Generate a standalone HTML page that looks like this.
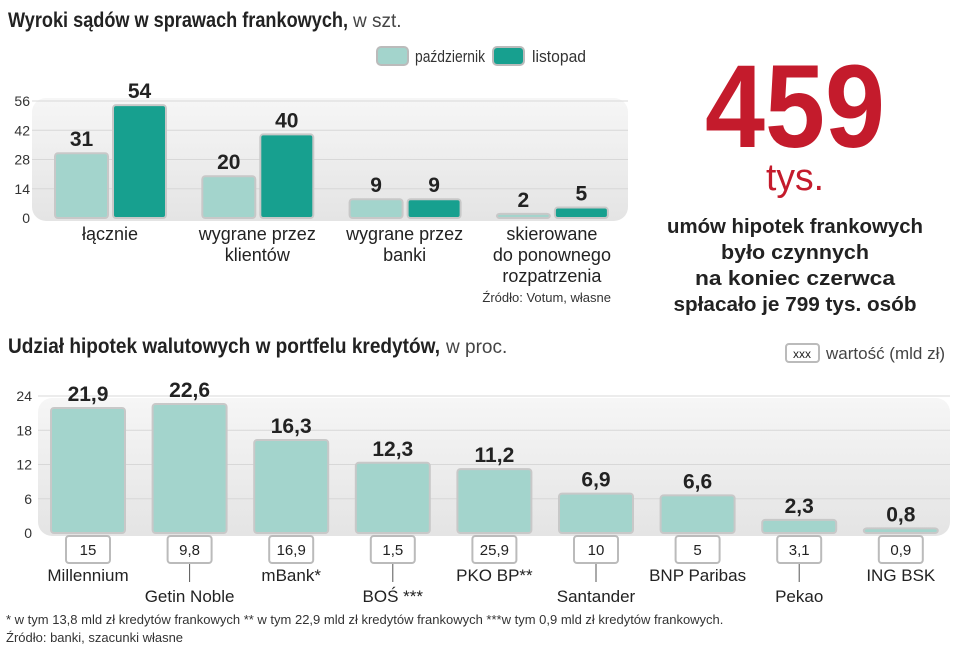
<!DOCTYPE html>
<html><head><meta charset="utf-8"><style>
body{margin:0;background:#fff}
svg{display:block;font-family:"Liberation Sans",sans-serif}
</style></head><body>
<svg id="c" width="960" height="652" viewBox="0 0 960 652">
<defs>
<linearGradient id="pg" x1="0" y1="0" x2="0" y2="1"><stop offset="0" stop-color="#f6f6f6"/><stop offset="1" stop-color="#e4e4e4"/></linearGradient>
</defs>
<text x="8" y="27" font-size="21" font-weight="bold" fill="#222" textLength="340" lengthAdjust="spacingAndGlyphs">Wyroki sądów w sprawach frankowych,</text>
<text x="353" y="27" font-size="19" fill="#444">w szt.</text>
<g>
<rect x="377" y="47" width="31" height="18" rx="4" fill="#a3d4cc" stroke="#bbb" stroke-width="2"/>
<text x="415" y="62" font-size="17" fill="#333" textLength="70" lengthAdjust="spacingAndGlyphs">październik</text>
<rect x="493" y="47" width="31" height="18" rx="4" fill="#17a08f" stroke="#bbb" stroke-width="2"/>
<text x="532" y="62" font-size="17" fill="#333" textLength="54" lengthAdjust="spacingAndGlyphs">listopad</text>
</g>
<rect x="32" y="98" width="596" height="123" rx="14" fill="url(#pg)"/>
<g id="top"></g>
<text x="611" y="302" font-size="13" fill="#333" text-anchor="end">Źródło: Votum, własne</text>

<text x="795" y="147" font-size="118" font-weight="bold" fill="#c41b2c" text-anchor="middle" textLength="180" lengthAdjust="spacingAndGlyphs">459</text>
<text x="795" y="190" font-size="38" fill="#c41b2c" text-anchor="middle" textLength="58" lengthAdjust="spacingAndGlyphs">tys.</text>
<g font-size="20" font-weight="bold" fill="#222" text-anchor="middle">
<text x="795" y="233" textLength="256" lengthAdjust="spacingAndGlyphs">umów hipotek frankowych</text>
<text x="795" y="259" textLength="148" lengthAdjust="spacingAndGlyphs">było czynnych</text>
<text x="795" y="285" textLength="200" lengthAdjust="spacingAndGlyphs">na koniec czerwca</text>
<text x="795" y="311" textLength="243" lengthAdjust="spacingAndGlyphs">spłacało je 799 tys. osób</text>
</g>

<text x="8" y="353" font-size="21" font-weight="bold" fill="#222" textLength="432" lengthAdjust="spacingAndGlyphs">Udział hipotek walutowych w portfelu kredytów,</text>
<text x="446" y="353" font-size="19" fill="#444">w proc.</text>
<g>
<rect x="786" y="344" width="33" height="18" rx="3" fill="#fff" stroke="#bbb" stroke-width="2"/>
<text x="802" y="358" font-size="12" fill="#222" text-anchor="middle">xxx</text>
<text x="826" y="359" font-size="17" fill="#444">wartość (mld zł)</text>
</g>
<rect x="38" y="398" width="912" height="138" rx="14" fill="url(#pg)"/>
<g id="bot"></g>
<text x="6" y="624" font-size="13" fill="#333">* w tym 13,8 mld zł kredytów frankowych ** w tym 22,9 mld zł kredytów frankowych ***w tym 0,9 mld zł kredytów frankowych.</text>
<text x="6" y="642" font-size="13" fill="#333">Źródło: banki, szacunki własne</text>
</svg>
<script>
const topCategories=[["łącznie"],["wygrane przez","klientów"],["wygrane przez","banki"],["skierowane","do ponownego","rozpatrzenia"]];
const octValues=[31,20,9,2];
const novValues=[54,40,9,5];
const topTicks=[0,14,28,42,56];
const banks=["Millennium","Getin Noble","mBank*","BOŚ ***","PKO BP**","Santander","BNP Paribas","Pekao","ING BSK"];
const shareValues=[21.9,22.6,16.3,12.3,11.2,6.9,6.6,2.3,0.8];
const amountLabels=["15","9,8","16,9","1,5","25,9","10","5","3,1","0,9"];
const botTicks=[0,6,12,18,24];
const NS="http://www.w3.org/2000/svg";
function mk(p,t,a,txt){const e=document.createElementNS(NS,t);for(const k in a)e.setAttribute(k,a[k]);if(txt!==undefined)e.textContent=txt;p.appendChild(e);return e;}
const fmt=v=>String(v).replace('.',',');
const tg=document.getElementById('top');
const ty=v=>218-v*(117/56);
topTicks.forEach(t=>{
 if(t>0){const l=mk(tg,'line',{x1:32,x2:628,y1:ty(t),y2:ty(t),stroke:'#d8d8d8','stroke-width':1});
 
 }
 const e=mk(tg,'text',{x:30,y:ty(t)+5,'font-size':14,fill:'#333','text-anchor':'end'},t);
 
 
});
topCategories.forEach((c,i)=>{
 const gx=55+i*147.3;
 [[octValues[i],'#a3d4cc',0],[novValues[i],'#17a08f',58]].forEach(([v,col,off],j)=>{
  const x=gx+off,y=ty(v),h=Math.max(218-y,2);
  const r=mk(tg,'rect',{x:x,y:218-h,width:53,height:h,rx:3,fill:col,stroke:'#c8c8c8','stroke-width':2});
  
  
  const t=mk(tg,'text',{x:x+26.5,y:218-h-7,'font-size':21,'font-weight':'bold',fill:'#222','text-anchor':'middle'},v);
  
  
 });
 c.forEach((ln,k)=>{
  const t=mk(tg,'text',{x:gx+55,y:240+k*21,'font-size':18,fill:'#222','text-anchor':'middle'},ln);
  
  
 });
});
const bg=document.getElementById('bot');
const by=v=>533-v*(137/24);
botTicks.forEach(t=>{
 if(t>0){const l=mk(bg,'line',{x1:38,x2:950,y1:by(t),y2:by(t),stroke:'#d8d8d8','stroke-width':1});
 
 }
 const e=mk(bg,'text',{x:32,y:by(t)+5,'font-size':14,fill:'#333','text-anchor':'end'},t);
 
 
});
banks.forEach((b,i)=>{
 const x=51+i*101.6,cx=x+37,y=by(shareValues[i]),h=Math.max(533-y,2);
 const r=mk(bg,'rect',{x:x,y:533-h,width:74,height:h,rx:3,fill:'#a3d4cc',stroke:'#c8c8c8','stroke-width':2});
 
 
 const t=mk(bg,'text',{x:cx,y:533-h-7,'font-size':21,'font-weight':'bold',fill:'#222','text-anchor':'middle'},fmt(shareValues[i]));
 
 
 const bx=mk(bg,'rect',{x:cx-22,y:536,width:44,height:27,rx:3,fill:'#fff',stroke:'#bbb','stroke-width':2});
 
 
 const at=mk(bg,'text',{x:cx,y:555,'font-size':15,fill:'#222','text-anchor':'middle'},amountLabels[i]);
 
 
 const low=i%2===1;
 if(low){const l=mk(bg,'line',{x1:cx,x2:cx,y1:564,y2:582,stroke:'#555','stroke-width':1});
  
  }
 const n=mk(bg,'text',{x:cx,y:low?602:581,'font-size':17,fill:'#222','text-anchor':'middle'},b);
 
 
});
</script>
</body></html>
